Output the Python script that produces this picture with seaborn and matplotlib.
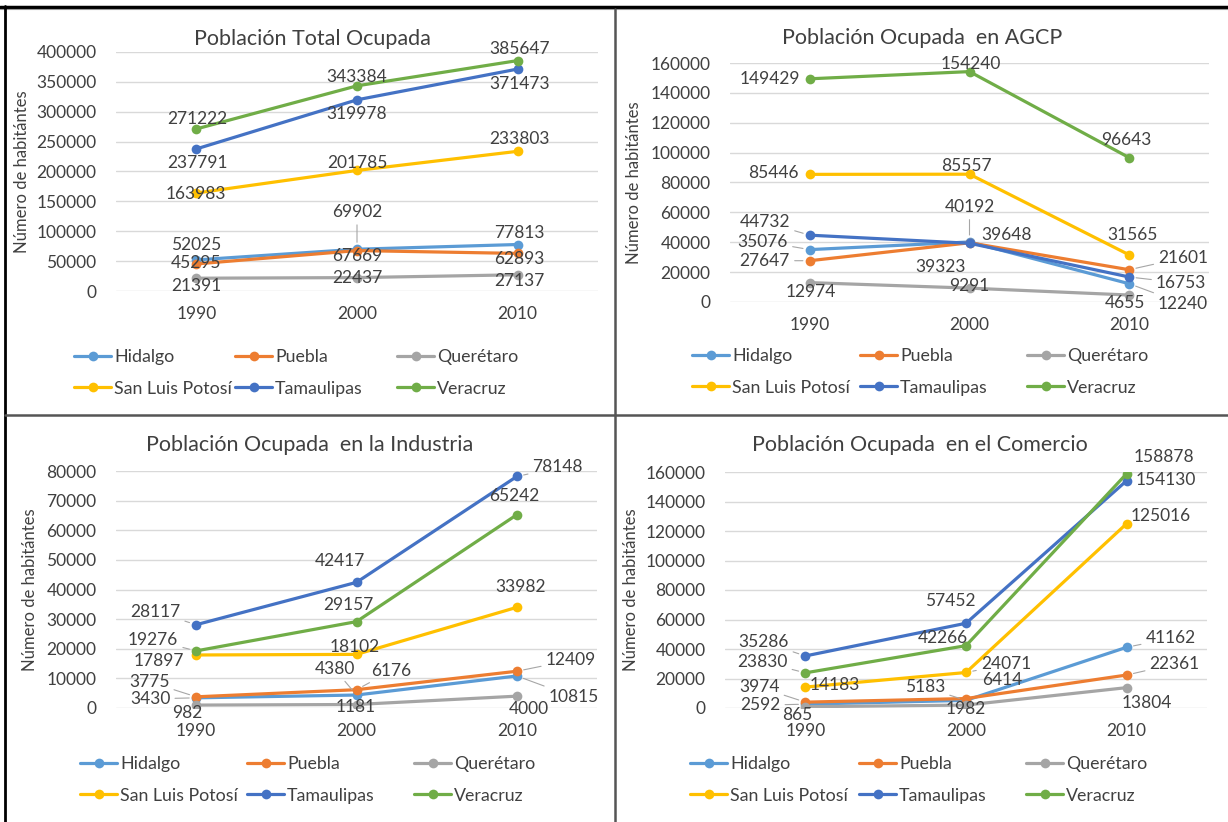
import numpy as np
import pandas as pd
import matplotlib
matplotlib.use('Agg')
import matplotlib.pyplot as plt
from matplotlib.lines import Line2D
import seaborn as sns

W, H = 1228, 822

anios = ['1990', '2000', '2010']
estados = ['Hidalgo', 'Puebla', 'Querétaro', 'San Luis Potosí', 'Tamaulipas', 'Veracruz']
colores = ['#5B9BD5', '#ED7D31', '#A5A5A5', '#FFC000', '#4472C4', '#70AD47']

# valores por estado (mismo orden que "estados")
total = [[52025, 69902, 77813],
         [45295, 67669, 62893],
         [21391, 22437, 27137],
         [163983, 201785, 233803],
         [237791, 319978, 371473],
         [271222, 343384, 385647]]
agcp = [[35076, 40192, 12240],
        [27647, 39648, 21601],
        [12974, 9291, 4655],
        [85446, 85557, 31565],
        [44732, 39323, 16753],
        [149429, 154240, 96643]]
industria = [[3430, 4380, 10815],
             [3775, 6176, 12409],
             [982, 1181, 4000],
             [17897, 18102, 33982],
             [28117, 42417, 78148],
             [19276, 29157, 65242]]
comercio = [[2592, 5183, 41162],
            [3974, 6414, 22361],
            [865, 1982, 13804],
            [14183, 24071, 125016],
            [35286, 57452, 154130],
            [23830, 42266, 158878]]

# posición de las etiquetas (dx, dy en pixeles, línea guía)
off_total = [[(0, 15, 0), (0, 37, 1), (2, 12, 0)],
             [(0, 1, 0), (0, -5, 0), (2, -6, 0)],
             [(0, -8, 0), (0, 0, 0), (2, -6, 0)],
             [(0, -1, 0), (0, 7, 0), (2, 12, 0)],
             [(1, -14, 0), (0, -14, 0), (2, -15, 0)],
             [(1, 10, 0), (0, 9, 0), (2, 12, 0)]]
off_agcp = [[(-47, 8, 1), (0, 35, 1), (54, -20, 1)],
            [(-45, 0, 1), (37, 8, 0), (54, 12, 1)],
            [(1, -9, 0), (0, 2, 0), (-4, -8, 0)],
            [(-36, 1, 0), (-3, 8, 0), (3, 20, 0)],
            [(-45, 13, 1), (-29, -24, 0), (52, -6, 1)],
            [(-40, 0, 0), (1, 8, 0), (-3, 18, 0)]]
off_industria = [[(-46, -1, 1), (-22, 26, 1), (57, -21, 1)],
                 [(-47, 15, 1), (35, 19, 1), (54, 11, 1)],
                 [(-9, -8, 0), (-1, -2, 0), (12, -13, 0)],
                 [(-37, -6, 0), (-2, 7, 0), (4, 20, 0)],
                 [(-41, 13, 1), (-17, 21, 0), (41, 9, 1)],
                 [(-43, 11, 1), (-8, 17, 0), (-3, 19, 0)]]
off_comercio = [[(-45, -1, 1), (-41, 13, 1), (44, 9, 1)],
                [(-46, 15, 1), (36, 19, 0), (48, 11, 1)],
                [(-8, -8, 0), (0, -4, 0), (20, -15, 0)],
                [(29, 2, 0), (40, 8, 1), (34, 8, 0)],
                [(-42, 14, 1), (-16, 22, 0), (39, 1, 0)],
                [(-43, 11, 1), (-23, 8, 0), (37, 17, 0)]]

paneles = [
    dict(titulo='Población Total Ocupada', valores=total, offs=off_total, ymax=400000, paso=50000,
         caja=(116, 52, 598, 291), tit=(312, 39), ylab=-0.178, ley=((74, 235, 397), 373)),
    dict(titulo='Población Ocupada  en AGCP', valores=agcp, offs=off_agcp, ymax=160000, paso=20000,
         caja=(730, 63, 1209, 302), tit=(922, 38), ylab=-0.183, ley=((692, 860, 1027), 372)),
    dict(titulo='Población Ocupada  en la Industria', valores=industria, offs=off_industria, ymax=80000, paso=10000,
         caja=(116, 471, 597, 708), tit=(310, 445), ylab=-0.162, ley=((80, 247, 414), 780)),
    dict(titulo='Población Ocupada  en el Comercio', valores=comercio, offs=off_comercio, ymax=160000, paso=20000,
         caja=(725, 472, 1207, 708), tit=(920, 445), ylab=-0.178, ley=((690, 859, 1026), 780)),
]

sns.set_theme(style='white')
plt.rcParams['font.family'] = ['Lato', 'DejaVu Sans']
TXT = '#404040'

fig = plt.figure(figsize=(W / 100, H / 100), dpi=100)

for p in paneles:
    x0, y0, x1, y1 = p['caja']
    ax = fig.add_axes([x0 / W, 1 - y1 / H, (x1 - x0) / W, (y1 - y0) / H])

    filas = []
    for i, est in enumerate(estados):
        for j, a in enumerate(anios):
            filas.append({'año': a, 'estado': est, 'valor': p['valores'][i][j]})
    df = pd.DataFrame(filas)

    sns.lineplot(data=df, x='año', y='valor', hue='estado', hue_order=estados,
                 palette=colores, marker='o', markersize=7, markeredgewidth=0,
                 linewidth=2.3, ax=ax, legend=False)

    ax.set_xlim(-0.5, 2.5)
    ax.set_ylim(0, p['ymax'])
    ticks = np.arange(0, p['ymax'] + 1, p['paso'])
    ax.set_yticks(ticks)
    ax.set_yticklabels([f'{int(t)}' for t in ticks])
    ax.grid(axis='y', color='#D9D9D9', linewidth=1)
    ax.grid(axis='x', visible=False)
    for s in ax.spines.values():
        s.set_visible(False)
    ax.tick_params(axis='y', length=0, pad=14, labelsize=12.5, labelcolor=TXT)
    ax.tick_params(axis='x', length=0, pad=11, labelsize=12.5, labelcolor=TXT)
    ax.set_xlabel('')
    ax.set_ylabel('Número de habitántes', fontsize=12, color=TXT)
    ax.yaxis.set_label_coords(p['ylab'], 0.5)

    for i in range(len(estados)):
        for j in range(len(anios)):
            v = p['valores'][i][j]
            dx, dy, guia = p['offs'][i][j]
            kw = {}
            if guia:
                kw['arrowprops'] = dict(arrowstyle='-', color='#A6A6A6', lw=0.8,
                                        shrinkA=1, shrinkB=5)
            ax.annotate(f'{v}', xy=(j, v), xytext=(dx, dy), textcoords='offset pixels',
                        ha='center', va='center', fontsize=12.5, color=TXT, **kw)

    fig.text(p['tit'][0] / W, 1 - p['tit'][1] / H, p['titulo'], ha='center', va='center',
             fontsize=15.5, color=TXT)

    lineas = ax.lines[:len(estados)]
    cols, ymid = p['ley']
    for c, xc in enumerate(cols):
        fig.legend([lineas[c], lineas[c + 3]], [estados[c], estados[c + 3]],
                   loc='center left', bbox_to_anchor=(xc / W, 1 - ymid / H),
                   frameon=False, borderpad=0, borderaxespad=0, handlelength=2.1,
                   handletextpad=0.15, labelspacing=0.85, fontsize=12.8,
                   labelcolor=TXT)

# marco de la tabla
def linea(xs, ys, color, lw):
    fig.add_artist(Line2D([x / W for x in xs], [1 - y / H for y in ys],
                          color=color, linewidth=lw, transform=fig.transFigure))

linea((0, W), (7.5, 7.5), 'black', 2.5)
linea((0, W), (9.5, 9.5), '#999999', 0.8)
linea((5, 5), (6, H), 'black', 2)
linea((615.5, 615.5), (9, H), '#555555', 1.8)
linea((5, W), (415.5, 415.5), '#555555', 1.8)

fig.savefig('out.png', dpi=100)
